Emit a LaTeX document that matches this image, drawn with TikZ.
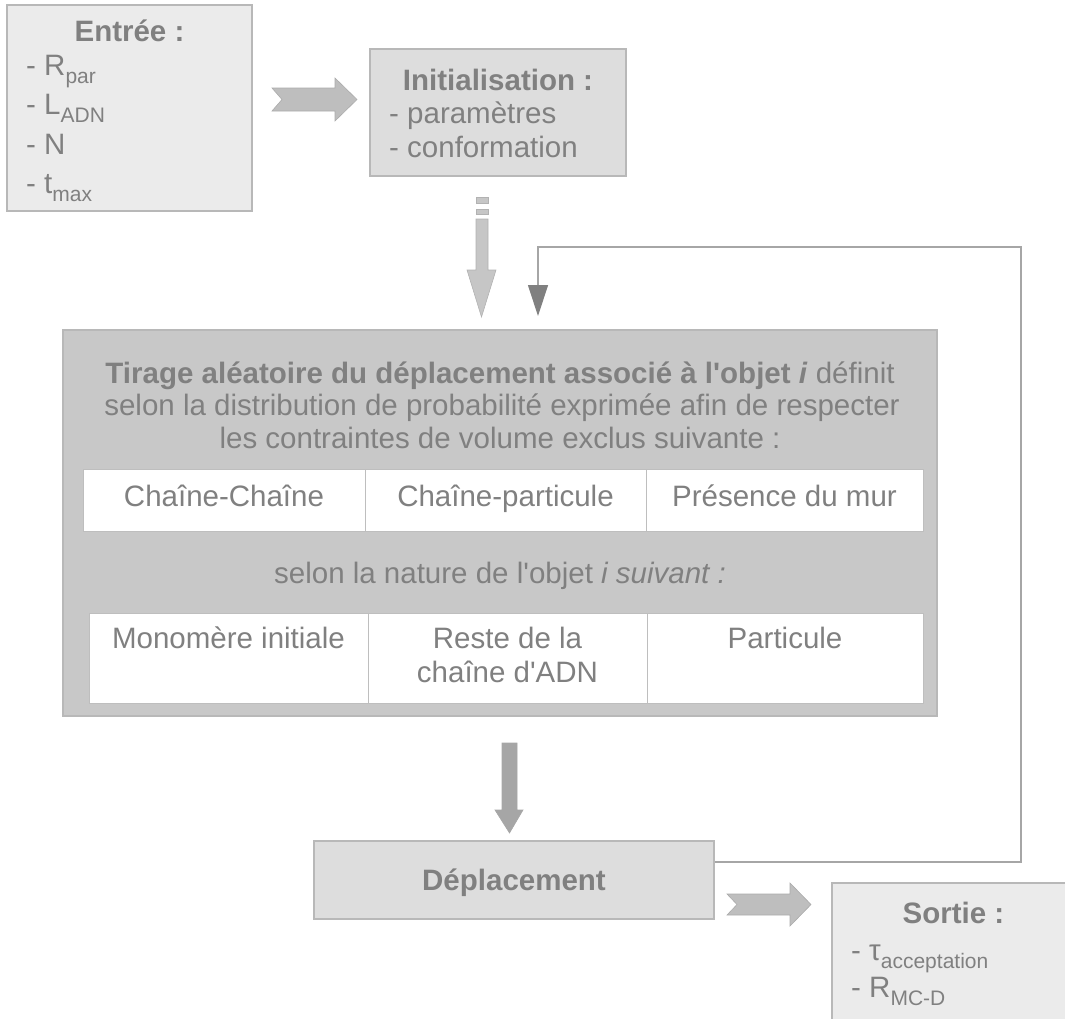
\documentclass[tikz,border=0pt]{standalone}
\usepackage{fontspec}
\setmainfont{Liberation Sans}
\usetikzlibrary{arrows.meta}
\definecolor{txt}{HTML}{808080}
\definecolor{bord}{HTML}{B8B8B8}
\definecolor{lightf}{HTML}{EBEBEB}
\definecolor{midf}{HTML}{DDDDDD}
\definecolor{darkf}{HTML}{C8C8C8}
\definecolor{cellb}{HTML}{BEBEBE}
\definecolor{arrowa}{HTML}{BEBEBE}
\definecolor{arrowb}{HTML}{A6A6A6}
\definecolor{arrowc}{HTML}{C6C6C6}
\definecolor{fbline}{HTML}{A6A6A6}
\definecolor{fbhead}{HTML}{808080}
\newcommand{\sbs}[1]{\raisebox{-8pt}{\fontsize{21}{21}\selectfont #1}}
\begin{document}
\begin{tikzpicture}[x=1pt,y=-1pt,
  every node/.style={text=txt, inner sep=0pt, font=\fontsize{29.5}{34}\selectfont},
  box/.style={draw=bord, line width=1.2pt},
  cell/.style={draw=cellb, fill=white, line width=1pt},
  lbl/.style={anchor=base},
  lblw/.style={anchor=base west},
  blockarrow/.style={line width=0.6pt},
  fb/.style={draw=fbline, line width=1.2pt}
]
\useasboundingbox (0,0) rectangle (1065,1018);
\clip (0,0) rectangle (1065,1018);

% boxes
\node[box, fill=lightf, minimum width=245pt, minimum height=206pt] (entree) at (129.5,108) {};
\node[box, fill=midf, minimum width=256pt, minimum height=127pt] (init) at (498,112.5) {};
\node[box, fill=darkf, minimum width=874pt, minimum height=386pt] (tirage) at (500,523) {};
\node[box, fill=midf, minimum width=400pt, minimum height=78pt] (dep) at (514,880) {};
\node[box, fill=lightf, minimum width=243pt, minimum height=147pt] (sortie) at (953.5,956.5) {};

% entree text
\node[lbl] (entreeT) at (129.5,41) {\textbf{Entrée :}};
\node[lblw] (e1) at (26,75) {- R\sbs{par}};
\node[lblw] (e2) at (26,114) {- L\sbs{ADN}};
\node[lblw] (e3) at (26,154) {- N};
\node[lblw] (e4) at (26,193) {- t\sbs{max}};

% init text
\node[lbl] (initT) at (498,90) {\textbf{Initialisation :}};
\node[lblw] (i1) at (389,123) {- paramètres};
\node[lblw] (i2) at (389,157) {- conformation};

% central text
\node[lbl] (t1) at (500,383) {\textbf{Tirage aléatoire du déplacement associé à l\textquotesingle objet \textit{i}} définit};
\node[lbl] (t2) at (502,415) {selon la distribution de probabilité exprimée afin de respecter};
\node[lbl] (t3) at (500,448) {les contraintes de volume exclus suivante :};

% table 1
\node[cell, minimum width=282pt, minimum height=62pt] (c1) at (224,500) {};
\node[cell, minimum width=281pt, minimum height=62pt] (c2) at (505.5,500) {};
\node[cell, minimum width=277pt, minimum height=62pt] (c3) at (784.5,500) {};
\node[lbl] (c1t) at (224,506) {Chaîne-Chaîne};
\node[lbl] (c2t) at (505.5,506) {Chaîne-particule};
\node[lbl] (c3t) at (784.5,506) {Présence du mur};

\node[lbl] (t4) at (500,583) {selon la nature de l\textquotesingle objet \textit{i suivant :}};

% table 2
\node[cell, minimum width=279pt, minimum height=90pt] (d1) at (228.5,658) {};
\node[cell, minimum width=279pt, minimum height=90pt] (d2) at (507.5,658) {};
\node[cell, minimum width=276pt, minimum height=90pt] (d3) at (785,658) {};
\node[lbl] (d1t) at (228.5,648) {Monomère initiale};
\node[lbl] (d2t) at (507.5,648) {Reste de la};
\node[lbl] (d2u) at (507.5,682) {chaîne d\textquotesingle ADN};
\node[lbl] (d3t) at (785,648) {Particule};

% deplacement text
\node[lbl] (depT) at (514,890) {\textbf{Déplacement}};

% sortie text
\node[lbl] (sortieT) at (953.5,923) {\textbf{Sortie :}};
\node[lblw] (s1) at (851,960) {- τ\sbs{acceptation}};
\node[lblw] (s2) at (851,997) {- R\sbs{MC-D}};

% block arrow entree -> init
\fill[arrowa, draw=arrowa!90!black, blockarrow]
  (272,88) -- (335,88) -- (335,78) -- (357,99.5) -- (335,121) -- (335,111) -- (272,111) -- (282,99.5) -- cycle;

% dashed down arrow init -> tirage
\fill[arrowc, draw=arrowc!90!black, blockarrow] (476,197) rectangle (488,203);
\fill[arrowc, draw=arrowc!90!black, blockarrow] (476,209) rectangle (488,214);
\fill[arrowc, draw=arrowc!90!black, blockarrow]
  (476,219) -- (488,219) -- (488,270) -- (496,270) -- (481.5,317) -- (467,270) -- (476,270) -- cycle;

% down arrow tirage -> dep
\fill[arrowb, draw=arrowb, blockarrow]
  (502,743) -- (517,743) -- (517,810) -- (523,810) -- (509.5,833) -- (495,810) -- (502,810) -- cycle;

% block arrow dep -> sortie
\fill[arrowa, draw=arrowa!90!black, blockarrow]
  (727,894) -- (790,894) -- (790,883) -- (811,904.5) -- (790,926) -- (790,915) -- (727,915) -- (737,904.5) -- cycle;

% feedback loop
\coordinate (fbtip) at (538,316);
\draw[fb, -{Triangle[width=20pt,length=31pt,color=fbhead,fill=fbhead]}]
  ([yshift=18pt]dep.east) -- (1021,862) -- (1021,247) -| (fbtip);
\end{tikzpicture}
\end{document}
